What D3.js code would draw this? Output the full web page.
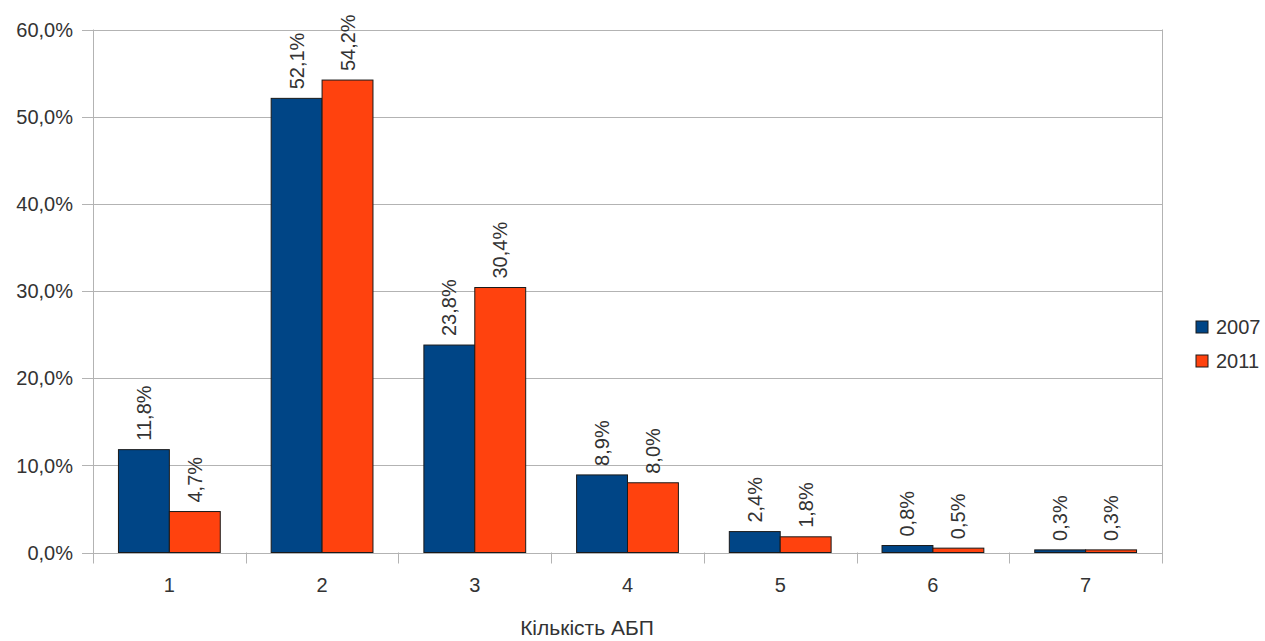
<!DOCTYPE html>
<html>
<head>
<meta charset="utf-8">
<script src="https://cdn.jsdelivr.net/npm/d3@7"></script>
<style>
  html, body { margin: 0; padding: 0; background: #fff; }
  svg { display: block; font-family: "Liberation Sans", Arial, sans-serif; }
</style>
</head>
<body>
<svg id="chart" width="1265" height="641"></svg>
<script>
// Number of categories on the x axis
const categories = ["1", "2", "3", "4", "5", "6", "7"];
const seriesNames = ["2007", "2011"];
const values2007 = [11.8, 52.1, 23.8, 8.9, 2.4, 0.8, 0.3];
const values2011 = [4.7, 54.2, 30.4, 8.0, 1.8, 0.5, 0.3];
const yTicks = [0, 10, 20, 30, 40, 50, 60];
const colors = ["#004586", "#ff420e"];
const xTitle = "Кількість АБП";

const fmt = v => v.toFixed(1).replace(".", ",") + "%";

const svg = d3.select("#chart");
const plot = { left: 93, right: 1162, top: 29.5, bottom: 552.5 };
const textColor = "#333333";
const fontSize = 20;

const x = d3.scaleBand().domain(categories).range([plot.left, plot.right]).padding(0);
const inner = d3.scaleBand().domain(seriesNames)
  .range([0, x.bandwidth()]).paddingOuter(0.5).paddingInner(0);
const y = d3.scaleLinear().domain([0, 60]).range([plot.bottom, plot.top]);

// horizontal gridlines
svg.append("g").selectAll("line").data(yTicks).join("line")
  .attr("x1", plot.left - 11).attr("x2", plot.right)
  .attr("y1", d => Math.round(y(d)) + 0.5).attr("y2", d => Math.round(y(d)) + 0.5)
  .attr("stroke", "#b3b3b3").attr("stroke-width", 1);

// vertical axis lines and category boundary ticks
const bounds = categories.map(c => x(c)).concat([plot.right]);
svg.append("g").selectAll("line").data(bounds).join("line")
  .attr("x1", d => Math.round(d) + 0.5).attr("x2", d => Math.round(d) + 0.5)
  .attr("y1", (d, i) => (i === 0 || i === bounds.length - 1) ? plot.top : plot.bottom)
  .attr("y2", plot.bottom + 11)
  .attr("stroke", "#b3b3b3").attr("stroke-width", 1);

// y tick labels
svg.append("g").selectAll("text").data(yTicks).join("text")
  .attr("x", 73).attr("y", d => y(d)).attr("dy", "0.36em")
  .attr("text-anchor", "end").attr("fill", textColor).attr("font-size", fontSize)
  .text(d => fmt(d));

// x tick labels
svg.append("g").selectAll("text").data(categories).join("text")
  .attr("x", d => x(d) + x.bandwidth() / 2).attr("y", 592)
  .attr("text-anchor", "middle").attr("fill", textColor).attr("font-size", fontSize)
  .text(d => d);

// bars
const series = [values2007, values2011];
series.forEach((vals, si) => {
  const g = svg.append("g");
  g.selectAll("rect").data(vals).join("rect")
    .attr("x", (d, i) => x(categories[i]) + inner(seriesNames[si]))
    .attr("y", d => y(d))
    .attr("width", inner.bandwidth())
    .attr("height", d => y(0) - y(d))
    .attr("fill", colors[si]).attr("stroke", "#1a1a1a").attr("stroke-width", 1);
  // value labels, rotated
  g.selectAll("text").data(vals).join("text")
    .attr("transform", (d, i) => {
      const cx = x(categories[i]) + inner(seriesNames[si]) + inner.bandwidth() / 2;
      return `translate(${cx + 7},${y(d) - 9}) rotate(-90)`;
    })
    .attr("text-anchor", "start").attr("fill", textColor).attr("font-size", fontSize)
    .text(d => fmt(d));
});

// legend
const legend = svg.append("g");
seriesNames.forEach((name, i) => {
  const ly = 327 + i * 34;
  legend.append("rect").attr("x", 1196).attr("y", ly - 6).attr("width", 12).attr("height", 12)
    .attr("fill", colors[i]).attr("stroke", "#1a1a1a").attr("stroke-width", 1);
  legend.append("text").attr("x", 1216).attr("y", ly).attr("dy", "0.36em")
    .attr("fill", textColor).attr("font-size", fontSize).text(name);
});

// x axis title
svg.append("text").attr("x", 587).attr("y", 635)
  .attr("text-anchor", "middle").attr("fill", textColor).attr("font-size", 21)
  .text(xTitle);
</script>
</body>
</html>
